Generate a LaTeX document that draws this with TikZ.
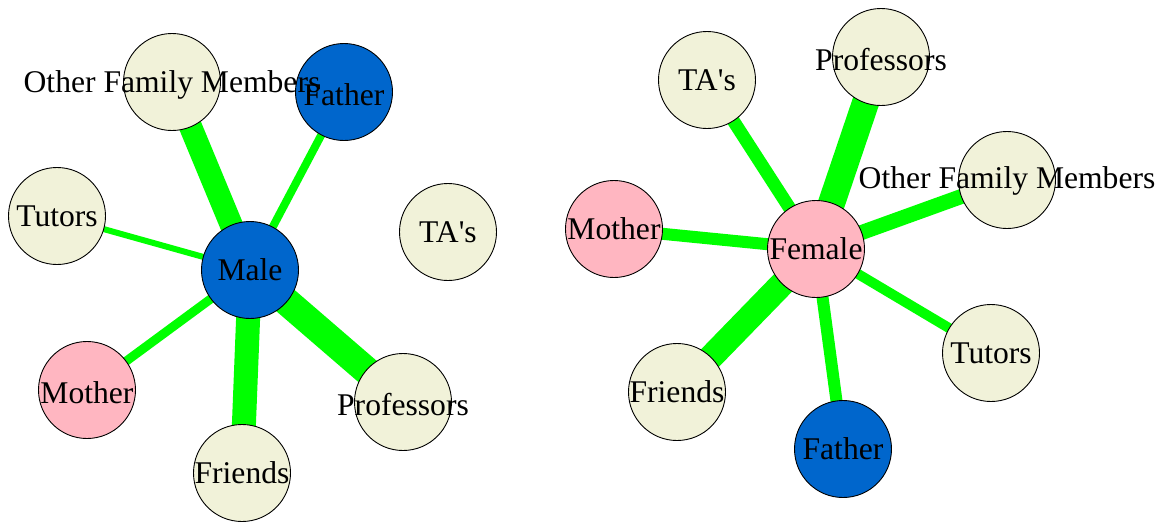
\documentclass[tikz,border=0pt]{standalone}
\usepackage{fontspec}
\setmainfont{Liberation Serif}
\usetikzlibrary{backgrounds}
\definecolor{vblue}{HTML}{0066CC}
\definecolor{vpink}{HTML}{FFB6C1}
\definecolor{vbeige}{HTML}{F1F2D9}
\definecolor{egreen}{HTML}{00FF00}
\tikzset{
  vert/.style={circle, draw=black, line width=0.9pt, minimum size=97pt, inner sep=0pt},
  vb/.style={vert, fill=vblue},
  vp/.style={vert, fill=vpink},
  ve/.style={vert, fill=vbeige},
  lbl/.style={inner sep=0pt, text height=21pt, text depth=0pt, font=\fontsize{31.6}{36}\selectfont},
  edge/.style={draw=egreen, line width=#1}
}
\begin{document}
\begin{tikzpicture}[x=1pt, y=-1pt]
\useasboundingbox (0,0) rectangle (1164,525);
% left graph vertices
\node[vb] (M)   at (250,270) {};
\node[ve] (MO)  at (172,82) {};
\node[vb] (MFa) at (344,92) {};
\node[ve] (MTu) at (57,216) {};
\node[ve] (MTA) at (448,232) {};
\node[vp] (MMo) at (87,390) {};
\node[ve] (MFr) at (242,473) {};
\node[ve] (MPr) at (403,402) {};
% right graph vertices
\node[vp] (F)   at (816,249) {};
\node[ve] (FTA) at (707,80) {};
\node[ve] (FPr) at (881,57) {};
\node[ve] (FO)  at (1007,180) {};
\node[vp] (FMo) at (614,229) {};
\node[ve] (FTu) at (991,353) {};
\node[ve] (FFr) at (677,392) {};
\node[vb] (FFa) at (843,449) {};
\begin{scope}[on background layer]
\fill[white] (0,0) rectangle (1164,525);
\draw[edge=23pt] (M.center) -- (MO.center);
\draw[edge=8pt]  (M.center) -- (MFa.center);
\draw[edge=6pt]  (M.center) -- (MTu.center);
\draw[edge=9pt]  (M.center) -- (MMo.center);
\draw[edge=24pt] (M.center) -- (MFr.center);
\draw[edge=28pt] (M.center) -- (MPr.center);
\draw[edge=13pt] (F.center) -- (FTA.center);
\draw[edge=27pt] (F.center) -- (FPr.center);
\draw[edge=15pt] (F.center) -- (FO.center);
\draw[edge=12pt] (F.center) -- (FMo.center);
\draw[edge=10pt] (F.center) -- (FTu.center);
\draw[edge=25pt] (F.center) -- (FFr.center);
\draw[edge=12pt] (F.center) -- (FFa.center);
\end{scope}
% labels
\node[lbl] (lM)   at (M)   {Male};
\node[lbl] (lMO)  at (MO)  {Other Family Members};
\node[lbl] (lMFa) at ([yshift=-3pt]MFa.center) {Father};
\node[lbl] (lMTu) at (MTu) {Tutors};
\node[lbl] (lMTA) at (MTA) {TA\textquotesingle s};
\node[lbl] (lMMo) at ([yshift=-3pt]MMo.center) {Mother};
\node[lbl] (lMFr) at (MFr) {Friends};
\node[lbl] (lMPr) at ([yshift=-3pt]MPr.center) {Professors};
\node[lbl] (lF)   at (F)   {Female};
\node[lbl] (lFTA) at (FTA) {TA\textquotesingle s};
\node[lbl] (lFPr) at ([yshift=-3pt]FPr.center) {Professors};
\node[lbl] (lFO)  at ([yshift=2pt]FO.center)  {Other Family Members};
\node[lbl] (lFMo) at (FMo) {Mother};
\node[lbl] (lFTu) at (FTu) {Tutors};
\node[lbl] (lFFr) at (FFr) {Friends};
\node[lbl] (lFFa) at (FFa) {Father};
\end{tikzpicture}
\end{document}
